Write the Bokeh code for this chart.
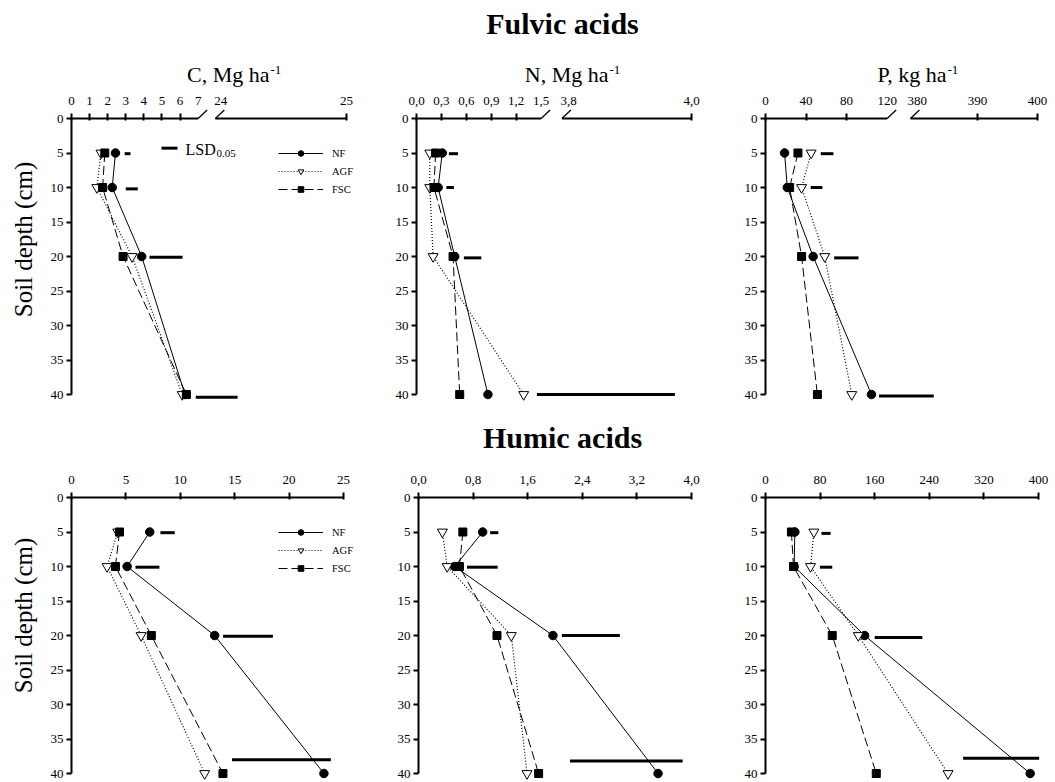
import math
from bokeh.plotting import figure
from bokeh.models import Range1d, FixedTicker, Legend, LegendItem
from bokeh.core.properties import value
from bokeh.layouts import column, row
from bokeh.embed import file_html
from bokeh.resources import INLINE

FONT = "Liberation Serif"

depth = [5, 10, 20, 40]

# ---------------- Fulvic acids ----------------
fa_c_nf = [2.43, 2.25, 3.88, 6.27]
fa_c_agf = [1.63, 1.40, 3.35, 6.12]
fa_c_fsc = [1.84, 1.72, 2.85, 6.35]
fa_c_lsd_depth = [5.1, 10.2, 20.1, 40.4]
fa_c_lsd_start = [2.94, 3.00, 4.31, 6.87]
fa_c_lsd = [0.32, 0.66, 1.83, 2.31]

fa_n_nf = [0.31, 0.26, 0.46, 0.86]
fa_n_agf = [0.16, 0.16, 0.20, 1.29]
fa_n_fsc = [0.23, 0.21, 0.44, 0.52]
fa_n_lsd_depth = [5.1, 10.0, 20.2, 40.0]
fa_n_lsd_start = [0.39, 0.36, 0.57, 1.45]
fa_n_lsd = [0.11, 0.09, 0.21, 1.66]

fa_p_nf = [18.8, 21.5, 47.0, 104.5]
fa_p_agf = [45.0, 35.6, 58.4, 85.1]
fa_p_fsc = [32.0, 23.8, 35.6, 51.2]
fa_p_lsd_depth = [5.1, 10.0, 20.2, 40.2]
fa_p_lsd_start = [54.5, 44.6, 67.7, 112.0]
fa_p_lsd = [12.5, 11.5, 24.0, 54.0]

# ---------------- Humic acids ----------------
ha_c_nf = [7.19, 5.11, 13.16, 23.2]
ha_c_agf = [4.25, 3.27, 6.40, 12.24]
ha_c_fsc = [4.41, 4.04, 7.34, 13.92]
ha_c_lsd_depth = [5.1, 10.1, 20.1, 38.0]
ha_c_lsd_start = [8.17, 5.88, 13.92, 14.75]
ha_c_lsd = [1.32, 2.20, 4.59, 9.09]

ha_n_nf = [0.94, 0.53, 1.97, 3.51]
ha_n_agf = [0.35, 0.42, 1.36, 1.59]
ha_n_fsc = [0.65, 0.60, 1.15, 1.76]
ha_n_lsd_depth = [5.1, 10.1, 20.0, 38.2]
ha_n_lsd_start = [1.05, 0.71, 2.10, 2.22]
ha_n_lsd = [0.12, 0.45, 0.85, 1.65]

ha_p_nf = [43.0, 42.0, 145.2, 387.8]
ha_p_agf = [70.9, 66.0, 136.0, 267.5]
ha_p_fsc = [38.0, 41.0, 97.8, 162.3]
ha_p_lsd_depth = [5.2, 10.1, 20.3, 37.8]
ha_p_lsd_start = [82.0, 79.7, 160.0, 289.5]
ha_p_lsd = [13.4, 18.1, 69.8, 111.5]

# ---------------- tick labels ----------------
fa_c_ticks = [0, 1, 2, 3, 4, 5, 6, 7, 24, 25]
fa_c_tick_labels = ["0", "1", "2", "3", "4", "5", "6", "7", "24", "25"]
fa_c_tick_marks = [0, 1, 2, 3, 4, 5, 6, 25]

fa_n_ticks = [0.0, 0.3, 0.6, 0.9, 1.2, 1.5, 3.8, 4.0]
fa_n_tick_labels = ["0,0", "0,3", "0,6", "0,9", "1,2", "1,5", "3,8", "4,0"]
fa_n_tick_marks = [0.0, 0.3, 0.6, 0.9, 1.2, 4.0]

fa_p_ticks = [0, 40, 80, 120, 380, 390, 400]
fa_p_tick_labels = ["0", "40", "80", "120", "380", "390", "400"]
fa_p_tick_marks = [0, 40, 80, 390, 400]

ha_c_ticks = [0, 5, 10, 15, 20, 25]
ha_c_tick_labels = ["0", "5", "10", "15", "20", "25"]
ha_n_ticks = [0.0, 0.8, 1.6, 2.4, 3.2, 4.0]
ha_n_tick_labels = ["0,0", "0,8", "1,6", "2,4", "3,2", "4,0"]
ha_p_ticks = [0, 80, 160, 240, 320, 400]
ha_p_tick_labels = ["0", "80", "160", "240", "320", "400"]

depth_ticks = [0, 5, 10, 15, 20, 25, 30, 35, 40]

series_names = ["NF", "AGF", "FSC"]

# ------- broken-axis layout (value -> axis coordinate) -------
BREAK_C = dict(s1=7.0, v2a=24.0, v2b=25.0, u2a=8.25, u2b=15.2, gap=(7.0, 7.95))
BREAK_N = dict(s1=1.5, v2a=3.8, v2b=4.0, u2a=1.83, u2b=3.31, gap=(1.5, 1.75))
BREAK_P = dict(s1=120.0, v2a=380.0, v2b=400.0, u2a=149.8, u2b=268.3, gap=(120.0, 143.0))


def to_u(v, brk):
    if brk is None or v <= brk["s1"]:
        return v
    return brk["u2a"] + (v - brk["v2a"]) * (brk["u2b"] - brk["u2a"]) / (brk["v2b"] - brk["v2a"])


def key(u):
    u = round(u, 6)
    return int(u) if float(u).is_integer() else u


def make_panel(nf, agf, fsc, lsd_y, lsd_start, lsd_len, ticks, labels, marks,
               xmax, brk, width, height, fw, left, right, top, bottom,
               legend=False, extra=0):
    fh = height - top - bottom
    xend = xmax * (fw + extra) / fw
    p = figure(width=width, height=height,
               x_range=Range1d(0, xend), y_range=Range1d(40, 0),
               x_axis_location="above", output_backend="svg",
               toolbar_location=None,
               min_border_left=left, min_border_right=right,
               min_border_top=top, min_border_bottom=bottom)
    p.outline_line_color = None
    p.grid.visible = False
    p.background_fill_color = None
    p.border_fill_color = "white"

    xa = p.xaxis[0]
    tick_u = [key(to_u(t, brk)) for t in ticks]
    mark_u = [key(to_u(t, brk)) for t in marks]
    xa.ticker = FixedTicker(ticks=tick_u, minor_ticks=mark_u)
    xa.major_label_overrides = {k: lab for k, lab in zip(tick_u, labels)}
    xa.bounds = (0, xmax)
    xa.axis_line_width = 2
    xa.axis_line_color = "black"
    xa.major_tick_line_color = None
    xa.major_tick_out = 4
    xa.major_tick_in = 0
    xa.minor_tick_line_color = "black"
    xa.minor_tick_line_width = 2
    xa.minor_tick_out = 5
    xa.minor_tick_in = 2
    xa.major_label_standoff = 9
    xa.major_label_text_font = FONT
    xa.major_label_text_font_size = "13px"
    xa.major_label_text_color = "black"

    ya = p.yaxis[0]
    ya.ticker = FixedTicker(ticks=depth_ticks, minor_ticks=[])
    ya.axis_line_width = 2
    ya.axis_line_color = "black"
    ya.major_tick_line_width = 2
    ya.major_tick_out = 5
    ya.major_tick_in = 0
    ya.minor_tick_line_color = None
    ya.major_label_standoff = 3
    ya.major_label_text_font = FONT
    ya.major_label_text_font_size = "13px"
    ya.major_label_text_color = "black"

    if brk is not None:
        g0, g1 = brk["gap"]
        pxu = fw / xmax
        sx = 9.0 / pxu
        sy = 8.5 / fh * 40
        cover = p.segment(x0=[g0], y0=[0], x1=[g1], y1=[0], line_color="white", line_width=7)
        cover.level = "overlay"
        sl = p.segment(x0=[g0, g1], y0=[0, 0], x1=[g0 + sx, g1 + sx], y1=[-sy, -sy],
                       line_color="black", line_width=1.3)
        sl.level = "overlay"

    u_nf = [to_u(v, brk) for v in nf]
    u_agf = [to_u(v, brk) for v in agf]
    u_fsc = [to_u(v, brk) for v in fsc]

    l_nf = p.line(u_nf, depth, line_color="black", line_width=1)
    l_agf = p.line(u_agf, depth, line_color="black", line_width=1.2, line_dash="1 2")
    l_fsc = p.line(u_fsc, depth, line_color="black", line_width=1, line_dash="9 4")
    m_nf = p.scatter(u_nf, depth, marker="circle", size=8.5, fill_color="black", line_color="black")
    m_agf = p.scatter(u_agf, depth, marker="inverted_triangle", size=10, fill_color="white",
                      line_color="black", line_width=1)
    m_fsc = p.scatter(u_fsc, depth, marker="square", size=8, fill_color="black", line_color="black")

    x0 = [to_u(s, brk) for s in lsd_start]
    x1 = [a + b for a, b in zip(x0, lsd_len)]
    lsd_r = p.segment(x0=x0, y0=lsd_y, x1=x1, y1=lsd_y, line_color="black", line_width=3)

    for r in (l_nf, l_agf, l_fsc, m_nf, m_agf, m_fsc, lsd_r):
        r.level = "overlay"

    if legend:
        items = [LegendItem(label=series_names[0], renderers=[l_nf, m_nf]),
                 LegendItem(label=series_names[1], renderers=[l_agf, m_agf]),
                 LegendItem(label=series_names[2], renderers=[l_fsc, m_fsc])]
        lg = Legend(items=items, location=(207, fh - 78), orientation="vertical",
                    border_line_color=None, background_fill_alpha=0,
                    padding=0, margin=0, spacing=4,
                    glyph_width=45, glyph_height=14, label_height=14,
                    label_standoff=9, label_text_font=FONT,
                    label_text_font_size="10.5px", label_text_color="black")
        p.add_layout(lg)
    return p


def add_text(p, text, dx, dy, size, align="left", bold=False, angle=0.0, baseline="alphabetic"):
    r = p.text(x=[0], y=[0], text=[text], x_offset=dx, y_offset=dy,
               text_font=value(FONT), text_font_size=size, text_color="black",
               text_align=align, text_baseline=baseline, angle=angle,
               text_font_style="bold" if bold else "normal")
    r.level = "overlay"
    return r


# ---------------- top row (fulvic acids) ----------------
f1 = make_panel(fa_c_nf, fa_c_agf, fa_c_fsc, fa_c_lsd_depth, fa_c_lsd_start, fa_c_lsd,
                fa_c_ticks, fa_c_tick_labels, fa_c_tick_marks, BREAK_C["u2b"], BREAK_C,
                366, 404, 275, 71, 4, 118, 10, legend=True, extra=16)
f2 = make_panel(fa_n_nf, fa_n_agf, fa_n_fsc, fa_n_lsd_depth, fa_n_lsd_start, fa_n_lsd,
                fa_n_ticks, fa_n_tick_labels, fa_n_tick_marks, BREAK_N["u2b"], BREAK_N,
                349, 404, 275, 50, 24, 118, 10)
f3 = make_panel(fa_p_nf, fa_p_agf, fa_p_fsc, fa_p_lsd_depth, fa_p_lsd_start, fa_p_lsd,
                fa_p_ticks, fa_p_tick_labels, fa_p_tick_marks, BREAK_P["u2b"], BREAK_P,
                340, 404, 272, 50, 18, 118, 10)

# ---------------- bottom row (humic acids) ----------------
f4 = make_panel(ha_c_nf, ha_c_agf, ha_c_fsc, ha_c_lsd_depth, ha_c_lsd_start, ha_c_lsd,
                ha_c_ticks, ha_c_tick_labels, ha_c_ticks, 25, None,
                366, 378, 272, 71, 7, 93, 9, legend=True, extra=16)
f5 = make_panel(ha_n_nf, ha_n_agf, ha_n_fsc, ha_n_lsd_depth, ha_n_lsd_start, ha_n_lsd,
                ha_n_ticks, ha_n_tick_labels, ha_n_ticks, 4.0, None,
                349, 378, 273, 52, 24, 93, 9)
f6 = make_panel(ha_p_nf, ha_p_agf, ha_p_fsc, ha_p_lsd_depth, ha_p_lsd_start, ha_p_lsd,
                ha_p_ticks, ha_p_tick_labels, ha_p_ticks, 400, None,
                340, 378, 273, 50, 17, 93, 9)

# titles
add_text(f2, "Fulvic acids", 146, -95, "30px", align="center", bold=True)
add_text(f5, "Humic acids", 144, -60, "30px", align="center", bold=True)

# panel unit titles with superscripts
for p, txt, anchor in ((f1, "C, Mg ha", 198), (f2, "N, Mg ha", 192), (f3, "P, kg ha", 181)):
    add_text(p, txt, anchor, -44, "22px", align="right")
    add_text(p, "-1", anchor + 1, -49, "13px", align="left")

# y axis titles
add_text(f1, "Soil depth (cm)", -48, 121, "25px", align="center",
         angle=math.pi / 2, baseline="middle")
add_text(f4, "Soil depth (cm)", -48, 118, "25px", align="center",
         angle=math.pi / 2, baseline="middle")

# LSD key
pxu1 = 275 / BREAK_C["u2b"]
key_seg = f1.segment(x0=[90 / pxu1], y0=[4.3], x1=[106 / pxu1], y1=[4.3],
                     line_color="black", line_width=3)
key_seg.level = "overlay"
add_text(f1, "LSD", 114, 31, "16px")
add_text(f1, "0.05", 145, 35, "11px")

layout = column(row(f1, f2, f3), row(f4, f5, f6))

open("out.html", "w").write(file_html(layout, INLINE))
